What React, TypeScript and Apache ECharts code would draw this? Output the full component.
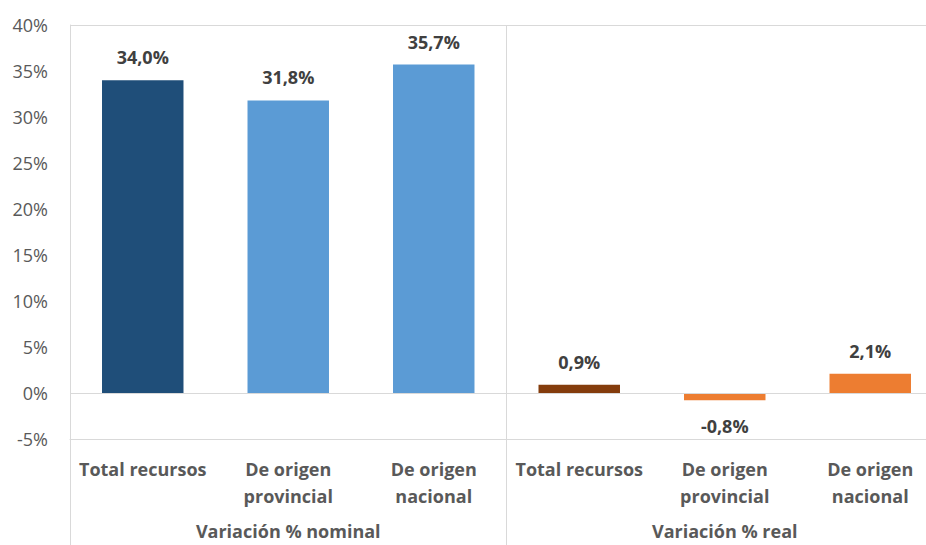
import React, { useEffect, useRef } from "react";
import * as echarts from "echarts";

const categories = [
  "Total recursos",
  "De origen\nprovincial",
  "De origen\nnacional",
  "Total recursos",
  "De origen\nprovincial",
  "De origen\nnacional",
];
const groups = ["Variación % nominal", "Variación % real"];
const values = [34.0, 31.8, 35.7, 0.9, -0.8, 2.1];
const barColors = ["#1f4e79", "#5b9bd5", "#5b9bd5", "#843c0c", "#ed7d31", "#ed7d31"];
const yTicks = { min: -5, max: 40, interval: 5 };

const FONT = "Open Sans";
const LINE = "#d9d9d9";

const fmt = (v: number) => v.toFixed(1).replace(".", ",") + "%";

export default function App() {
  const ref = useRef<HTMLDivElement>(null);
  useEffect(() => {
    if (!ref.current) return;
    const chart = echarts.init(ref.current, undefined, { renderer: "svg" });
    const data = values.map((v, i) => ({
      value: v,
      itemStyle: { color: barColors[i] },
      label: {
        position: v < 0 ? "bottom" : "top",
        distance: v < 0 ? 17 : 14,
      },
    }));
    chart.setOption({
      animation: false,
      textStyle: { fontFamily: FONT },
      grid: {
        left: 70,
        right: 0,
        top: 25,
        bottom: 106,
        containLabel: false,
        outerBoundsMode: "none",
      },
      xAxis: [
        {
          type: "category",
          data: categories,
          position: "bottom",
          axisLine: { onZero: false, lineStyle: { color: LINE, width: 1 } },
          axisTick: { show: false },
          splitLine: { show: false },
          axisLabel: {
            interval: 0,
            margin: 16,
            lineHeight: 27,
            fontSize: 18,
            fontWeight: "bold",
            color: "#595959",
            fontFamily: FONT,
          },
        },
        {
          type: "category",
          data: groups,
          position: "bottom",
          axisLine: { show: false },
          axisTick: { show: false },
          splitLine: { show: true, interval: 0, lineStyle: { color: LINE } },
          axisLabel: {
            interval: 0,
            margin: 80,
            lineHeight: 24,
            fontSize: 18,
            fontWeight: "bold",
            color: "#595959",
            fontFamily: FONT,
          },
        },
        {
          type: "category",
          data: groups,
          position: "bottom",
          offset: 110,
          axisLine: { show: false },
          axisTick: { show: true, inside: true, interval: 0, length: 110, lineStyle: { color: LINE } },
          splitLine: { show: false },
          axisLabel: { show: false },
        },
      ],
      yAxis: {
        type: "value",
        min: yTicks.min,
        max: yTicks.max,
        interval: yTicks.interval,
        axisLine: { show: true, lineStyle: { color: LINE } },
        axisTick: { show: false },
        splitLine: { show: false },
        axisLabel: {
          formatter: (v: number) => `${v}%`,
          margin: 22,
          fontSize: 18,
          color: "#595959",
          fontFamily: FONT,
        },
      },
      series: [
        {
          type: "bar",
          xAxisIndex: 0,
          barWidth: "56%",
          data,
          label: {
            show: true,
            formatter: (p: any) => fmt(p.value),
            fontSize: 18,
            fontWeight: "bold",
            color: "#404040",
            fontFamily: FONT,
          },
          markLine: {
            silent: true,
            symbol: "none",
            label: { show: false },
            lineStyle: { color: LINE, type: "solid", width: 1 },
            data: [{ yAxis: 0 }, { yAxis: yTicks.max }],
          },
        },
      ],
    });
    return () => chart.dispose();
  }, []);
  return (
    <div style={{ position: "fixed", left: 0, top: 0, width: 926, height: 545, overflow: "hidden", background: "#fff" }}>
      <div ref={ref} style={{ width: 943, height: 545 }} />
    </div>
  );
}
